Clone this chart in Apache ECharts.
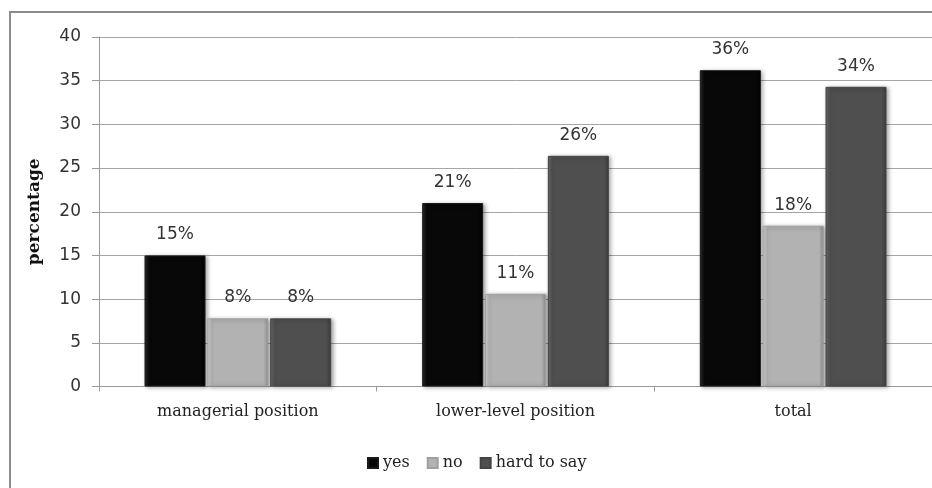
<!DOCTYPE html>
<html>
<head>
<meta charset="utf-8">
<script src="https://cdn.jsdelivr.net/npm/echarts@6/dist/echarts.min.js"></script>
<style>
  html, body { margin: 0; padding: 0; background: #fff; }
  #chart { width: 932px; height: 488px; }
</style>
</head>
<body>
<div id="chart"></div>
<script>
// data
const categories = ['managerial position', 'lower-level position', 'total'];
const seriesNames = ['yes', 'no', 'hard to say'];
const yesValues = [15, 21, 36.2];
const noValues = [7.8, 10.6, 18.4];
const hardValues = [7.8, 26.4, 34.3];
const yesLabels = ['15%', '21%', '36%'];
const noLabels = ['8%', '11%', '18%'];
const hardLabels = ['8%', '26%', '34%'];

const serif = '"DejaVu Serif", "Liberation Serif", serif';
const sans = '"DejaVu Sans", Verdana, sans-serif';

function bevel(dark, mid, light) {
    return {
        type: 'linear', x: 0, y: 0, x2: 1, y2: 0,
        colorStops: [
            { offset: 0, color: light },
            { offset: 0.08, color: mid },
            { offset: 0.92, color: mid },
            { offset: 1, color: dark }
        ]
    };
}

function makeSeries(name, values, labels, fill, edge) {
    return {
        name: name,
        type: 'bar',
        barWidth: 61,
        barGap: '3%',
        data: values,
        itemStyle: {
            color: fill,
            borderColor: edge,
            borderWidth: 1,
            shadowColor: 'rgba(0,0,0,0.35)',
            shadowBlur: 4,
            shadowOffsetX: 2,
            shadowOffsetY: 1
        },
        label: {
            show: true,
            position: 'top',
            distance: 12,
            fontFamily: sans,
            fontSize: 17,
            color: '#333',
            formatter: p => labels[p.dataIndex]
        }
    };
}

let chartElement = echarts.init(document.getElementById('chart'));
chartElement.setOption({
    animation: false,
    backgroundColor: '#fff',
    graphic: [{
        type: 'polyline',
        shape: { points: [[10, 490], [10, 12], [935, 12]] },
        style: { stroke: '#8c8c8c', lineWidth: 2, fill: null },
        silent: true
    }],
    legend: {
        bottom: 12,
        left: 362,
        itemWidth: 10,
        itemHeight: 10,
        itemGap: 17,
        icon: 'rect',
        data: seriesNames,
        textStyle: { fontFamily: serif, fontSize: 16, color: '#222' }
    },
    grid: { left: 99, top: 37, width: 840, height: 349.5, containLabel: false },
    xAxis: {
        type: 'category',
        data: categories,
        boundaryGap: true,
        axisLine: { lineStyle: { color: '#9a9a9a', width: 1 } },
        axisTick: { show: true, length: 5, lineStyle: { color: '#9a9a9a' } },
        axisLabel: { fontFamily: serif, fontSize: 16, color: '#222', margin: 17 }
    },
    yAxis: {
        type: 'value',
        min: 0,
        max: 40,
        interval: 5,
        name: 'percentage',
        nameLocation: 'middle',
        nameGap: 56,
        nameTextStyle: { fontFamily: serif, fontSize: 17, fontWeight: 'bold', color: '#111' },
        axisLine: { show: true, lineStyle: { color: '#9a9a9a' } },
        axisTick: { show: true, length: 7, lineStyle: { color: '#9a9a9a' } },
        axisLabel: { fontFamily: sans, fontSize: 17, color: '#333', margin: 18 },
        splitLine: { lineStyle: { color: '#a6a6a6', width: 1 } }
    },
    series: [
        makeSeries('yes', yesValues, yesLabels, bevel('#000', '#080808', '#2a2a2a'), '#1a1a1a'),
        makeSeries('no', noValues, noLabels, bevel('#8f8f8f', '#b2b2b2', '#d4d4d4'), '#a0a0a0'),
        makeSeries('hard to say', hardValues, hardLabels, bevel('#3c3c3c', '#4f4f4f', '#6a6a6a'), '#444')
    ]
});
</script>
</body>
</html>
